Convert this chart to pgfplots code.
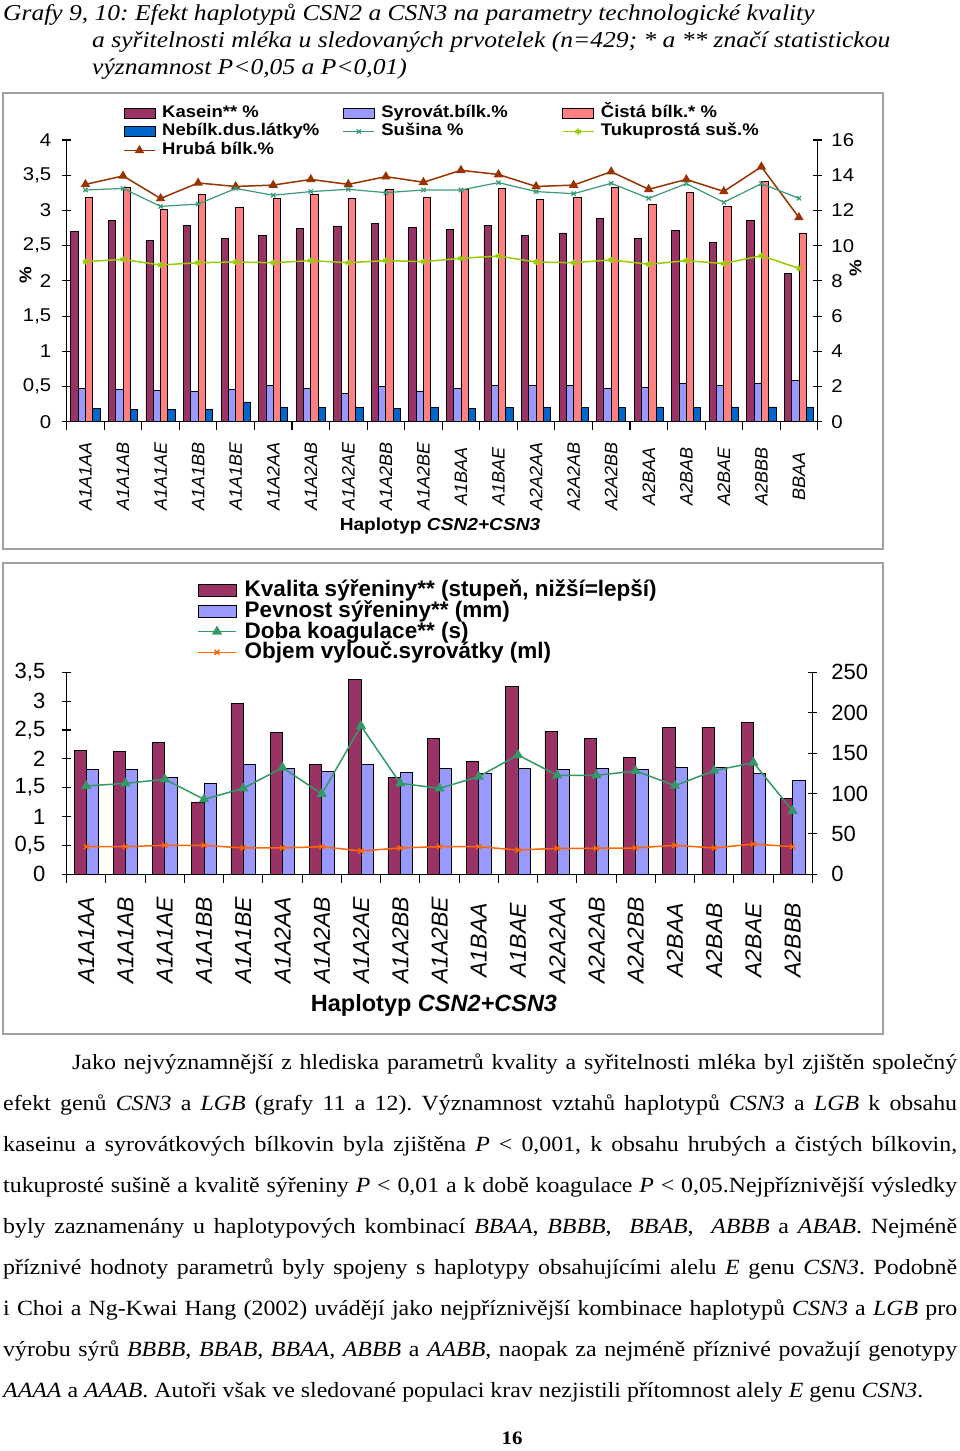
\documentclass[border=0pt]{standalone}
\usepackage{fontspec}
\setmainfont{Liberation Serif}
\setsansfont{Liberation Sans}
\newfontfamily\topsf{Liberation Sans}[FakeStretch=1.1]
\newfontfamily\bodyrm{Liberation Serif}[FakeStretch=1.1]
\newfontfamily\titrm{Liberation Serif}[FakeStretch=1.125]
\usepackage{pgfplots}
\usepackage{pgfplotstable}
\pgfplotsset{compat=1.18}
\frenchspacing

\definecolor{kas}{HTML}{993366}
\definecolor{syr}{HTML}{9999FF}
\definecolor{cis}{HTML}{FF8080}
\definecolor{neb}{HTML}{0066CC}
\definecolor{hru}{HTML}{993300}
\definecolor{sus}{HTML}{3A9A78}
\definecolor{tuk}{HTML}{99CC00}
\definecolor{dob}{HTML}{339966}
\definecolor{obj}{HTML}{FF6600}
\definecolor{frm}{HTML}{A0A0A0}

% graf 9: levá osa (%)
\pgfplotstableread{
id kas  syr   cis  neb  hru
0  2.70 0.47  3.19 0.19 3.37
1  2.86 0.46  3.32 0.17 3.49
2  2.57 0.445 3.02 0.17 3.17
3  2.79 0.43  3.23 0.17 3.39
4  2.60 0.46  3.05 0.28 3.34
5  2.65 0.52  3.17 0.20 3.36
6  2.75 0.47  3.23 0.20 3.44
7  2.78 0.40  3.17 0.20 3.37
8  2.81 0.50  3.30 0.19 3.48
9  2.76 0.43  3.19 0.20 3.40
10 2.73 0.47  3.30 0.19 3.57
11 2.79 0.52  3.31 0.20 3.51
12 2.65 0.52  3.16 0.20 3.34
13 2.68 0.52  3.19 0.20 3.36
14 2.88 0.47  3.33 0.20 3.55
15 2.60 0.49  3.09 0.21 3.30
16 2.71 0.54  3.25 0.20 3.44
17 2.54 0.52  3.06 0.21 3.27
18 2.86 0.55  3.41 0.21 3.62
19 2.11 0.59  2.68 0.21 2.90
}\topL
% graf 9: pravá osa (%)
\pgfplotstableread{
id sus   tuk
0  13.16 9.09
1  13.25 9.22
2  12.23 8.90
3  12.36 9.03
4  13.25 9.07
5  12.86 9.03
6  13.07 9.15
7  13.20 9.03
8  13.01 9.15
9  13.16 9.09
10 13.16 9.28
11 13.58 9.41
12 13.07 9.07
13 12.95 9.03
14 13.54 9.19
15 12.69 8.94
16 13.52 9.15
17 12.46 8.98
18 13.52 9.43
19 12.69 8.71
}\topR
% graf 10
\pgfplotstableread{
id kv   pev  doba  obj
0  2.15 1.81 109.3 34.2
1  2.13 1.81 112.6 34.2
2  2.29 1.68 117.6 35.9
3  1.25 1.58 92.8  35.9
4  2.96 1.91 106.4 32.6
5  2.46 1.83 132.0 32.6
6  1.91 1.78 99.4  34.2
7  3.38 1.91 183.6 28.9
8  1.68 1.76 112.6 32.6
9  2.36 1.83 106.4 34.2
10 1.96 1.75 120.9 34.2
11 3.26 1.83 147.7 30.1
12 2.48 1.81 122.5 32.2
13 2.36 1.83 122.5 32.2
14 2.03 1.81 127.9 32.6
15 2.54 1.85 109.7 35.9
16 2.54 1.85 128.3 32.6
17 2.63 1.75 138.2 37.5
18 1.31 1.63 78.4  34.2
}\bot

\pgfplotsset{
  common/.style={scale only axis, axis line style={line width=1.1pt},
    tick style={line width=1.1pt, black}, major tick length=8.5pt,
    /pgf/number format/use comma, /pgf/number format/1000 sep={},
    /pgf/number format/assume math mode=true},
  barleg/.style={legend image code/.code={\draw[##1] (0pt,-5pt) rectangle (31pt,5pt);}},
  lineleg/.style={legend image code/.code={\draw[##1, mark repeat=2, mark phase=2]
      plot coordinates {(0pt,0pt) (15.5pt,0pt) (31pt,0pt)};}},
  barlegB/.style={legend image code/.code={\draw[##1] (0pt,-6pt) rectangle (38pt,6pt);}},
  linelegB/.style={legend image code/.code={\draw[##1, mark repeat=2, mark phase=2]
      plot coordinates {(0pt,0pt) (19pt,0pt) (38pt,0pt)};}},
}
\newcommand\ca[1]{\makebox[175pt][l]{#1}}
\newcommand\jl[3]{\node[anchor=base west, inner sep=0pt] at (#1,-#2)
  {\hbox to \dimexpr957pt-#1pt\relax{\spaceskip=.25em plus 3em minus .08em #3}};}

\begin{document}
\begin{tikzpicture}[x=1pt,y=1pt]
\path[use as bounding box, fill=white] (0,0) rectangle (960,-1451);

% nadpis
\begin{scope}[every node/.style={anchor=base west, inner sep=0pt,
    font=\titrm\fontsize{22.7}{27}\selectfont\itshape}]
\node at (3,-20.5) {Grafy 9, 10: Efekt haplotypů CSN2 a CSN3 na parametry technologické kvality};
\node at (92,-47.5) {a syřitelnosti mléka u sledovaných prvotelek (n=429; * a ** značí statistickou};
\node at (92,-74.5) {významnost P<0,05 a P<0,01)};
\end{scope}

\draw[frm, line width=2pt] (2.7,-92.7) rectangle (883,-548.5);
\draw[frm, line width=2pt] (2.7,-562.7) rectangle (883,-1034);

% ---------- graf 9 ----------
\begin{axis}[common,
  width=751pt, height=281.7pt, at={(66.7pt,-421.7pt)}, anchor=south west,
  xmin=-0.5, xmax=19.5, ymin=0, ymax=4,
  axis x line*=bottom, axis y line*=left,
  xtick={-0.5,0.5,...,19.5},
  xticklabels={A1A1AA,A1A1AB,A1A1AE,A1A1BB,A1A1BE,A1A2AA,A1A2AB,A1A2AE,A1A2BB,A1A2BE,
    A1BAA,A1BAE,A2A2AA,A2A2AB,A2A2BB,A2BAA,A2BAB,A2BAE,A2BBB,BBAA,{}},
  xtick align=outside, ytick align=center,
  xticklabel style={xshift=18.775pt, yshift=-46pt, rotate=90, anchor=center,
    inner sep=0pt, font=\sffamily\itshape\fontsize{18}{20}\selectfont},
  ytick={0,0.5,...,4},
  yticklabel style={anchor=east, inner sep=0pt, xshift=-11pt,
    font=\topsf\fontsize{18.5}{20}\selectfont},
  legend columns=3,
  legend style={at={(0.075,1.1226)}, anchor=north west, draw=none, fill=none,
    inner sep=0pt, row sep=4.2pt, cells={anchor=west},
    font=\topsf\bfseries\fontsize{16.8}{18}\selectfont,
    nodes={inner sep=0pt, text height=11.5pt, text depth=3pt},
    /tikz/every odd column/.append style={column sep=6.5pt},
    /tikz/every even column/.append style={column sep=5.5pt}},
]
\addplot[ybar, bar width=7.3pt, bar shift=-10.95pt, fill=kas, draw=black, line width=0.8pt, barleg]
  table[x=id, y=kas]{\topL};
\addlegendentry{\ca{Kasein** \%}}
\addplot[ybar, bar width=7.3pt, bar shift=-3.65pt, fill=syr, draw=black, line width=0.8pt, barleg]
  table[x=id, y=syr]{\topL};
\addlegendentry{\ca{Syrovát.bílk.\%}}
\addplot[ybar, bar width=7.3pt, bar shift=3.65pt, fill=cis, draw=black, line width=0.8pt, barleg]
  table[x=id, y=cis]{\topL};
\addlegendentry{Čistá bílk.* \%}
\addplot[ybar, bar width=7.3pt, bar shift=10.95pt, fill=neb, draw=black, line width=0.8pt, barleg]
  table[x=id, y=neb]{\topL};
\addlegendentry{\ca{Nebílk.dus.látky\%}}
\addlegendimage{sus, line width=1.2pt, mark=x, mark size=3pt, lineleg}
\addlegendentry{\ca{Sušina \%}}
\addlegendimage{tuk, line width=1.5pt, mark=asterisk, mark size=3pt, lineleg}
\addlegendentry{Tukuprostá suš.\%}
\addplot[hru, line width=1.5pt, mark=triangle*, mark size=4pt, lineleg]
  table[x=id, y=hru]{\topL};
\addlegendentry{\ca{Hrubá bílk.\%}}
\end{axis}

\begin{axis}[common,
  width=751pt, height=281.7pt, at={(66.7pt,-421.7pt)}, anchor=south west,
  xmin=-0.5, xmax=19.5, ymin=0, ymax=16,
  axis x line=none, axis y line*=right, ytick align=center,
  ytick={0,2,...,16},
  yticklabel style={anchor=west, inner sep=0pt, xshift=9.3pt,
    font=\topsf\fontsize{18.5}{20}\selectfont},
]
\addplot[sus, line width=1.2pt, mark=x, mark size=3pt] table[x=id, y=sus]{\topR};
\addplot[tuk, line width=1.5pt, mark=asterisk, mark size=3pt] table[x=id, y=tuk]{\topR};
\end{axis}

\node[rotate=90, font=\topsf\bfseries\fontsize{17}{18}\selectfont] at (25.5,-275) {\%};
\node[rotate=90, font=\topsf\bfseries\fontsize{17}{18}\selectfont] at (855.5,-268.5) {\%};
\node[font=\topsf\bfseries\fontsize{17.4}{18}\selectfont] at (440,-526)
  {Haplotyp \textit{CSN2+CSN3}};

% ---------- graf 10 ----------
\begin{axis}[common,
  width=745.6pt, height=202pt, at={(66.7pt,-874.3pt)}, anchor=south west,
  xmin=-0.5, xmax=18.5, ymin=0, ymax=3.5,
  axis x line*=bottom, axis y line*=left,
  xtick={-0.5,0.5,...,18.5},
  xticklabels={A1A1AA,A1A1AB,A1A1AE,A1A1BB,A1A1BE,A1A2AA,A1A2AB,A1A2AE,A1A2BB,A1A2BE,
    A1BAA,A1BAE,A2A2AA,A2A2AB,A2A2BB,A2BAA,A2BAB,A2BAE,A2BBB,{}},
  xtick align=outside, ytick align=center,
  xticklabel style={xshift=19.62pt, yshift=-57.5pt, rotate=90, anchor=center,
    inner sep=0pt, font=\sffamily\itshape\fontsize{23}{25}\selectfont},
  ytick={0,0.5,...,3.5},
  yticklabel style={anchor=east, inner sep=0pt, xshift=-17pt,
    font=\sffamily\fontsize{22}{24}\selectfont},
  legend style={at={(0.1748,1.457)}, anchor=north west, draw=none, fill=none,
    inner sep=0pt, row sep=0.7pt, cells={anchor=west},
    font=\sffamily\bfseries\fontsize{22.5}{24}\selectfont,
    nodes={inner sep=0pt, text height=16.5pt, text depth=3.5pt},
    /tikz/every odd column/.append style={column sep=8pt}},
]
\addplot[ybar, bar width=12.3pt, bar shift=-6.15pt, fill=kas, draw=black, line width=0.8pt, barlegB]
  table[x=id, y=kv]{\bot};
\addlegendentry{Kvalita sýřeniny** (stupeň, nižší=lepší)}
\addplot[ybar, bar width=12.3pt, bar shift=6.15pt, fill=syr, draw=black, line width=0.8pt, barlegB]
  table[x=id, y=pev]{\bot};
\addlegendentry{Pevnost sýřeniny** (mm)}
\addlegendimage{dob, line width=1.5pt, mark=triangle*, mark size=4.5pt, linelegB}
\addlegendentry{Doba koagulace** (s)}
\addlegendimage{obj, line width=1.5pt, mark=x, mark size=3.5pt, linelegB}
\addlegendentry{Objem vylouč.syrovátky (ml)}
\end{axis}

\begin{axis}[common,
  width=745.6pt, height=202pt, at={(66.7pt,-874.3pt)}, anchor=south west,
  xmin=-0.5, xmax=18.5, ymin=0, ymax=250,
  axis x line=none, axis y line*=right, ytick align=center,
  ytick={0,50,...,250},
  yticklabel style={anchor=west, inner sep=0pt, xshift=14.7pt,
    font=\sffamily\fontsize{22}{24}\selectfont},
]
\addplot[dob, line width=1.5pt, mark=triangle*, mark size=4.5pt] table[x=id, y=doba]{\bot};
\addplot[obj, line width=1.5pt, mark=x, mark size=3.5pt] table[x=id, y=obj]{\bot};
\end{axis}

\node[font=\sffamily\bfseries\fontsize{23.5}{25}\selectfont] at (434,-1005)
  {Haplotyp \textit{CSN2+CSN3}};

% ---------- text ----------
\begin{scope}[font=\bodyrm\fontsize{21.7}{26}\selectfont]
\jl{72}{1069.3}{Jako nejvýznamnější z hlediska parametrů kvality a syřitelnosti mléka byl zjištěn společný}
\jl{3}{1110.3}{efekt genů \textit{CSN3} a \textit{LGB} (grafy 11 a 12). Významnost vztahů haplotypů \textit{CSN3} a \textit{LGB} k obsahu}
\jl{3}{1151.3}{kaseinu a syrovátkových bílkovin byla zjištěna \textit{P} < 0,001, k~obsahu hrubých a čistých bílkovin,}
\jl{3}{1192.3}{tukuprosté sušině a kvalitě sýřeniny \textit{P} < 0,01 a k době koagulace \textit{P} < 0,05.Nejpříznivější výsledky}
\jl{3}{1233.3}{byly zaznamenány u haplotypových kombinací \textit{BBAA}, \textit{BBBB}, \ \textit{BBAB}, \ \textit{ABBB} a \textit{ABAB}. Nejméně}
\jl{3}{1274.3}{příznivé hodnoty parametrů byly spojeny s haplotypy obsahujícími alelu \textit{E} genu \textit{CSN3}. Podobně}
\jl{3}{1315.3}{i Choi a Ng-Kwai Hang (2002) uvádějí jako nejpříznivější kombinace haplotypů \textit{CSN3} a \textit{LGB} pro}
\jl{3}{1356.3}{výrobu sýrů \textit{BBBB}, \textit{BBAB}, \textit{BBAA}, \textit{ABBB} a \textit{AABB}, naopak za nejméně příznivé považují genotypy}
\node[anchor=base west, inner sep=0pt] at (3,-1397.3)
  {\textit{AAAA} a \textit{AAAB}. Autoři však ve sledované populaci krav nezjistili přítomnost alely \textit{E} genu \textit{CSN3}.};
\end{scope}
\node[anchor=base, inner sep=0pt, font=\bodyrm\bfseries\fontsize{19}{20}\selectfont] at (512,-1444) {16};
\end{tikzpicture}
\end{document}
